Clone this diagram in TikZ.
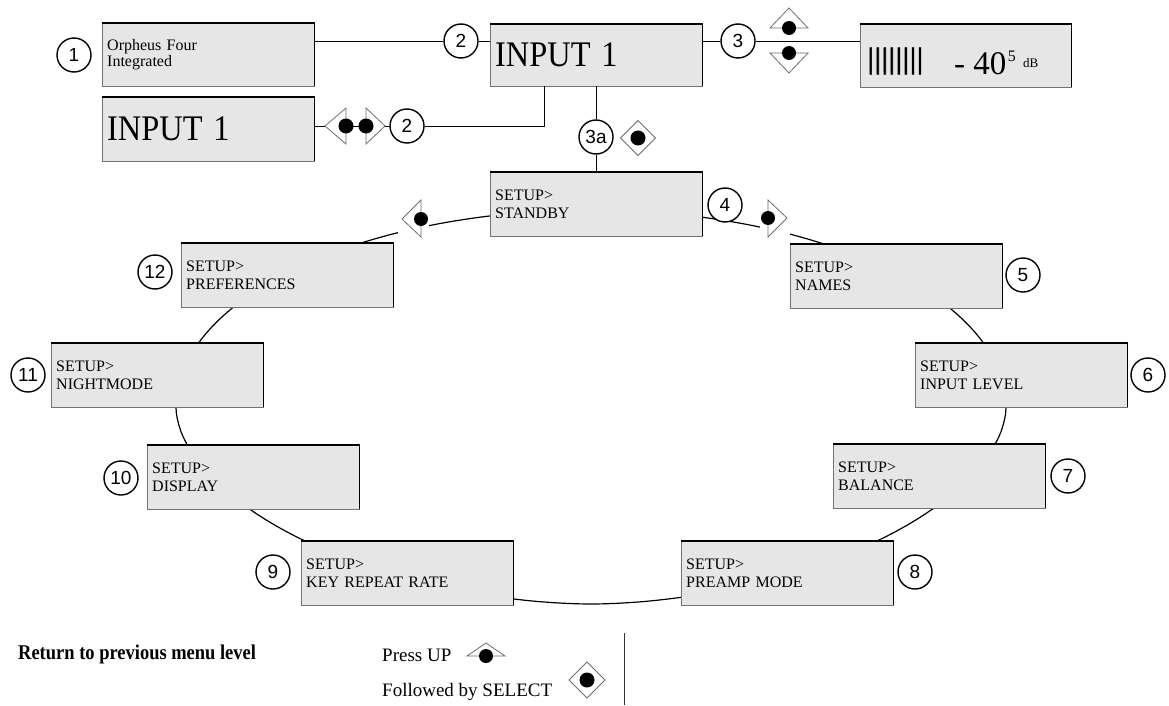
\documentclass[tikz,border=0pt]{standalone}
\usepackage{fontspec}
\setmainfont{Liberation Serif}
\newfontfamily\numfont{Liberation Sans}
\usetikzlibrary{calc}
\definecolor{boxfill}{RGB}{230,230,230}
\definecolor{edgegray}{RGB}{115,115,115}
\definecolor{icongray}{RGB}{110,110,110}
\tikzset{
  lcd/.style={fill=boxfill, minimum width=212pt, minimum height=64pt, inner sep=0pt, anchor=north west, text width=202pt, align=left, font=\fontsize{16}{18}\selectfont},
  numc/.style={circle, draw=black, line width=1.4pt, fill=white, minimum size=34pt, inner sep=0pt, font=\numfont\fontsize{19}{19}\selectfont},
  ring/.style={line width=1.2pt, black},
  conn/.style={line width=0.9pt, black},
  icon/.style={draw=icongray, line width=0.8pt, fill=white},
  iconbg/.style={fill=white},
  lbl/.style={inner sep=0pt, anchor=base west},
}
\newcommand\lcdbox[5][]{%
  \node[lcd,#1] (#2) at (#3,#4) {#5};
  \draw[edgegray, line width=1pt] (#2.north west) rectangle (#2.south east);
  \draw[black, line width=1.6pt] (#2.north west) -- (#2.north east) -- (#2.south east);
}
\begin{document}
\begin{tikzpicture}[x=1pt,y=-1pt]
\useasboundingbox (0,0) rectangle (1169,706);
\fill[white] (0,0) rectangle (1169,706);

% ring of the setup menu
\draw[ring] plot[domain=0:180,samples=90,variable=\t] ({591+415*cos(\t)},{407-197*sin(\t)})
  -- plot[domain=0.5:89.5,samples=45,variable=\s] ({591-415*pow(cos(\s),1.093)},{407+197*pow(sin(\s),1.093)})
  -- plot[domain=0.5:89.5,samples=45,variable=\s] ({591+415*pow(sin(\s),1.093)},{407+197*pow(cos(\s),1.093)})
  -- cycle;

% top row boxes
\lcdbox[font=\fontsize{16}{16}\selectfont, minimum height=63pt]{orph}{102}{23}{Orpheus Four\\Integrated}
\lcdbox[font=\fontsize{36}{40}\selectfont]{inB}{102}{97}{\scalebox{0.9}[1]{INPUT 1}}
\lcdbox[font=\fontsize{36}{40}\selectfont, minimum height=62pt]{main}{490}{24}{\scalebox{0.9}[1]{INPUT 1}}
\lcdbox[minimum width=211pt, minimum height=63pt]{level}{860}{24}{}
\node[inner sep=0pt, anchor=west, font=\fontsize{32}{32}\selectfont\addfontfeature{FakeBold=2}] (bars) at (867,61) {\scalebox{1.1}[0.92]{||||||||}};
\node[lbl, font=\fontsize{33}{33}\selectfont] (val) at (954,75) {- 40};
\node[lbl, font=\fontsize{16}{16}\selectfont] (sup) at ($(val.base east)+(1,-13)$) {5};
\node[lbl, font=\fontsize{13}{13}\selectfont] (unit) at (1023,68) {dB};

% setup boxes
\lcdbox{standby}{490}{172}{SETUP>\\STANDBY}
\lcdbox{names}{790}{244}{SETUP>\\NAMES}
\lcdbox{inlevel}{915}{343}{SETUP>\\INPUT LEVEL}
\lcdbox{balance}{833}{444}{SETUP>\\BALANCE}
\lcdbox{preamp}{681}{541}{SETUP>\\PREAMP MODE}
\lcdbox{keyrep}{301}{541}{SETUP>\\KEY REPEAT RATE}
\lcdbox{display}{147}{445}{SETUP>\\DISPLAY}
\lcdbox{night}{51}{343}{SETUP>\\NIGHTMODE}
\lcdbox{prefs}{181}{243}{SETUP>\\PREFERENCES}

% number circles
\node[numc] (n1) at (74,55) {1};
\node[numc] (n2a) at (461,41) {2};
\node[numc] (n2b) at (407,126) {2};
\node[numc] (n3) at (738,41) {3};
\node[numc] (n3a) at (596,137) {3a};
\node[numc] (n4) at (725,205) {4};
\node[numc] (n5) at (1023,275) {5};
\node[numc] (n6) at (1148,375) {6};
\node[numc] (n7) at (1068,476) {7};
\node[numc] (n8) at (915,572) {8};
\node[numc] (n9) at (273,572) {9};
\node[numc] (n10) at (121,478) {10};
\node[numc] (n11) at (28,375) {11};
\node[numc] (n12) at (155,272) {12};

% connectors, top part
\draw[conn] (n2a.west) -- (n2a.west -| orph.east);
\draw[conn] (n2a.east) -- (n2a.east -| main.west);
\draw[conn] (n3.west) -- (n3.west -| main.east);
\draw[conn] (n3.east) -- (n3.east -| level.west);
\draw[conn] (n3a.north) -- (n3a.north |- main.south);
\draw[conn] (n3a.south) -- (n3a.south |- standby.north);

\coordinate (lapex) at (325,126);
\coordinate (ldot) at (346,126);
\coordinate (rdot) at (366,126);
\coordinate (rapex) at (385,126);
\coordinate (knee) at (544,126);
\draw[conn] (lapex) -- (lapex -| inB.east);
\draw[conn] (ldot) -- (rdot);
\draw[conn] (rapex) -- (n2b.west);
\draw[conn] (n2b.east) -- (knee) -- (knee |- main.south);

% left / right keys
\draw[icon] (lapex) -- ($(ldot)+(0,-18)$) -- ($(ldot)+(0,18)$) -- cycle;
\draw[icon] (rapex) -- ($(rdot)+(0,-18)$) -- ($(rdot)+(0,18)$) -- cycle;
\fill (ldot) circle[radius=7.5];
\fill (rdot) circle[radius=7.5];

% up / down keys
\coordinate (updot) at (789,28);
\coordinate (dndot) at (789,53);
\draw[icon] ($(updot)+(-19,0)$) -- ($(updot)+(0,-20)$) -- ($(updot)+(19,0)$) -- cycle;
\fill (updot) circle[radius=7];
\draw[icon] ($(dndot)+(-19,0)$) -- ($(dndot)+(0,20)$) -- ($(dndot)+(19,0)$) -- cycle;
\fill (dndot) circle[radius=7];

% select key 3a
\coordinate (seldot) at (638,138);
\draw[icon] ($(seldot)+(-17.5,0)$) -- ($(seldot)+(0,-17.5)$) -- ($(seldot)+(17.5,0)$) -- ($(seldot)+(0,17.5)$) -- cycle;
\fill (seldot) circle[radius=7.5];

% keys on the ring
\coordinate (lr) at (421,219);
\fill[iconbg] ($(lr)+(-23,-21)$) rectangle ($(lr)+(8,21)$);
\draw[icon] ($(lr)+(-19,0)$) -- ($(lr)+(0,-19)$) -- ($(lr)+(0,18)$) -- cycle;
\fill (lr) circle[radius=7];
\coordinate (rr) at (768,218);
\fill[iconbg] ($(rr)+(-8,-20)$) rectangle ($(rr)+(22,21)$);
\draw[icon] ($(rr)+(19,0)$) -- ($(rr)+(0,-18)$) -- ($(rr)+(0,19)$) -- cycle;
\fill (rr) circle[radius=7];

% legend
\node[lbl, font=\bfseries\fontsize{21}{22}\selectfont] (ret) at (18,659) {\scalebox{0.88}[1]{Return to previous menu level}};
\node[lbl, font=\fontsize{19}{20}\selectfont] (pup) at (382,661) {Press UP};
\node[lbl, font=\fontsize{19}{20}\selectfont] (fsel) at (382,696) {Followed by SELECT};
\coordinate (pdot) at (486,656);
\draw[icon] ($(pdot)+(-19,0)$) -- ($(pdot)+(0,-13)$) -- ($(pdot)+(19,0)$) -- cycle;
\fill (pdot) circle[radius=7];
\coordinate (sdot) at (587,680);
\draw[icon] ($(sdot)+(-18,0)$) -- ($(sdot)+(0,-18)$) -- ($(sdot)+(18,0)$) -- ($(sdot)+(0,18)$) -- cycle;
\fill (sdot) circle[radius=7.5];
\coordinate (vtop) at (624,633);
\coordinate (vbot) at (624,705);
\draw[line width=0.9pt, black!80] (vtop) -- (vbot);
\end{tikzpicture}
\end{document}
